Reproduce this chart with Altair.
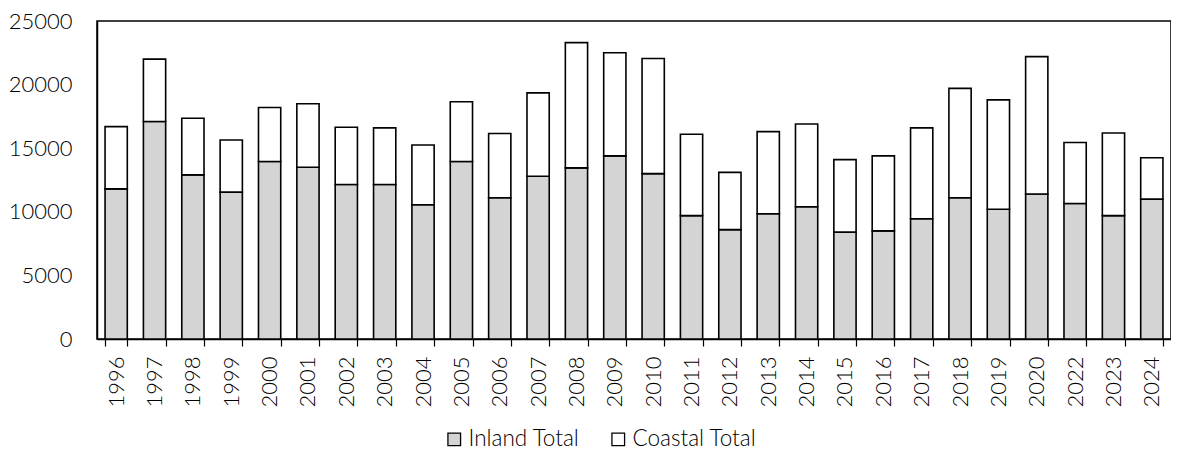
import altair as alt
import pandas as pd

years = ["1996", "1997", "1998", "1999", "2000", "2001", "2002", "2003", "2004", "2005",
         "2006", "2007", "2008", "2009", "2010", "2011", "2012", "2013", "2014", "2015",
         "2016", "2017", "2018", "2019", "2020", "2022", "2023", "2024"]
inland = [11800, 17100, 12900, 11550, 13950, 13500, 12150, 12150, 10550, 13950,
          11100, 12800, 13450, 14400, 13000, 9700, 8600, 9850, 10400, 8400,
          8500, 9450, 11100, 10200, 11400, 10650, 9700, 11000]
total = [16700, 22000, 17350, 15650, 18200, 18500, 16650, 16600, 15250, 18650,
         16150, 19350, 23300, 22500, 22050, 16100, 13100, 16300, 16900, 14100,
         14400, 16600, 19700, 18800, 22200, 15450, 16200, 14250]
series = ["Inland Total", "Coastal Total"]

rows = []
for y, i, t in zip(years, inland, total):
    rows.append({"Year": y, "Series": series[0], "Value": i, "Order": 0})
    rows.append({"Year": y, "Series": series[1], "Value": t - i, "Order": 1})
df = pd.DataFrame(rows)

FONT = "Lato"

chart = alt.Chart(df).mark_bar(stroke="black", strokeWidth=1.6).encode(
    x=alt.X("Year:N", sort=years, title=None,
            scale=alt.Scale(paddingInner=0.42, paddingOuter=0.21),
            axis=alt.Axis(labelAngle=270, tickBand="extent", tickSize=7,
                          labelPadding=10, tickColor="black", domainColor="black",
                          domainWidth=1.5, tickWidth=1.2, labelFontSize=22,
                          labelColor="black", labelFont=FONT, labelFontWeight=300)),
    y=alt.Y("Value:Q", stack="zero", title=None,
            scale=alt.Scale(domain=[0, 25000], nice=False),
            axis=alt.Axis(values=[0, 5000, 10000, 15000, 20000, 25000], ticks=False,
                          format="d", labelPadding=25, grid=False, domainColor="black",
                          domainWidth=1.5, labelFontSize=22, labelColor="black",
                          labelFont=FONT, labelFontWeight=300)),
    color=alt.Color("Series:N", sort=series,
                    scale=alt.Scale(domain=series, range=["#d4d4d4", "#ffffff"]),
                    legend=alt.Legend(title=None, orient="none", direction="horizontal",
                                      legendX=346, legendY=407, symbolType="square",
                                      symbolSize=160, symbolStrokeColor="black",
                                      symbolStrokeWidth=1.3, labelFontSize=22.5,
                                      labelFont=FONT, labelFontWeight=300,
                                      labelColor="black",
                                      columnPadding=27, padding=0, symbolOffset=0,
                                      labelOffset=3)),
    order=alt.Order("Order:Q"),
).properties(
    width=1074, height=318,
    autosize=alt.AutoSizeParams(type="none"),
    padding={"left": 89, "top": 13, "right": 0, "bottom": 115},
).configure_view(
    stroke="black", strokeWidth=1.5
)

chart.save("out.html", embed_options={"renderer": "svg", "actions": False})
